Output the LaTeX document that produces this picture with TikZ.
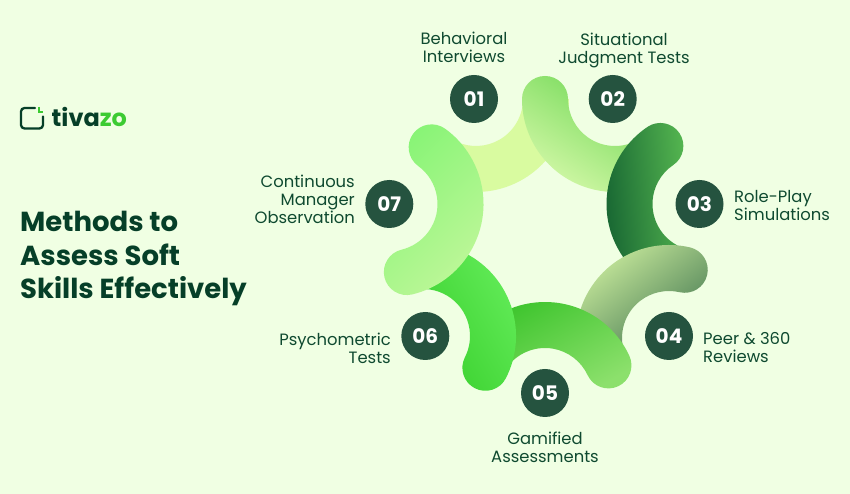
\documentclass[tikz,border=0pt]{standalone}
\usepackage{fontspec}
\setmainfont{Poppins}
\usetikzlibrary{calc}
\definecolor{bg}{HTML}{F0FFE3}
\definecolor{badge}{HTML}{25533F}
\definecolor{ink}{HTML}{0F4A30}
\definecolor{head}{HTML}{063F28}
\definecolor{zo}{HTML}{3CCB32}
\definecolor{sa}{HTML}{D9FBA0}
\definecolor{sba}{HTML}{70D855}
\definecolor{sbb}{HTML}{D6F9AA}
\definecolor{sca}{HTML}{0E5A2E}
\definecolor{scb}{HTML}{55B650}
\definecolor{sda}{HTML}{CDEE9F}
\definecolor{sdb}{HTML}{467A52}
\definecolor{sea}{HTML}{3CC42C}
\definecolor{seb}{HTML}{8CE06C}
\definecolor{sfa}{HTML}{3AD02E}
\definecolor{sfb}{HTML}{66EE5C}
\definecolor{sga}{HTML}{88F476}
\definecolor{sgb}{HTML}{C0F79A}
\tikzset{
  badgenode/.style={circle,fill=badge,text=white,minimum size=48pt,inner sep=0pt,font=\fontsize{20}{20}\selectfont\bfseries},
  lab/.style={text=ink,inner sep=0pt,font=\fontsize{16.4}{18}\selectfont},
  titletext/.style={text=head,inner sep=0pt,anchor=north west,align=left,font=\fontsize{27.5}{33.5}\selectfont\bfseries},
  logotext/.style={inner sep=0pt,anchor=base west,font=\fontsize{24}{24}\selectfont\bfseries},
}
% #6, #7: 1 = round end, 0 = flat end
\newcommand{\bandseg}[7]{%
  \ifnum#7=1 \def\endpiece{arc[start angle=#5,end angle=#5+180,radius=23pt]}%
  \else \def\endpiece{-- ($(#2,494-#3)+(#5:47pt)$)}\fi
  \ifnum#6=1 \def\startpiece{arc[start angle=#4+180,end angle=#4+360,radius=23pt]}%
  \else \def\startpiece{}\fi
  \shade[#1] ($(#2,494-#3)+(#4:93pt)$)
    arc[start angle=#4,end angle=#5,radius=93pt]
    \endpiece
    arc[start angle=#5,end angle=#4,radius=47pt]
    \startpiece
    -- cycle;%
}
\begin{document}
\begin{tikzpicture}[x=1pt,y=1pt]
\useasboundingbox (0,0) rectangle (850,494);
\fill[bg] (0,0) rectangle (850,494);
% segments painted in stacking order
\bandseg{top color=sa,bottom color=sa}{476}{99}{245}{360}{0}{0}
\bandseg{top color=sba,bottom color=sbb,shading angle=-33}{615}{99}{180}{295}{1}{0}
\bandseg{top color=sca,bottom color=scb,shading angle=95}{699.5}{204}{124}{242}{1}{0}
\bandseg{top color=sda,bottom color=sdb,shading angle=38}{669}{338}{77}{188}{1}{0}
\bandseg{top color=sea,bottom color=seb,shading angle=30}{545}{395}{25}{140}{1}{0}
\bandseg{top color=sfa,bottom color=sfb,shading angle=120}{423}{336}{-27}{93}{1}{0}
\bandseg{top color=sga,bottom color=sgb,shading angle=45}{390.5}{204}{-76.5}{54}{1}{1}
% badges
\node[badgenode] (b1) at (474,494-99) {01};
\node[badgenode] (b2) at (612.7,494-99) {02};
\node[badgenode] (b3) at (699.5,494-204) {03};
\node[badgenode] (b4) at (669,494-336) {04};
\node[badgenode] (b5) at (545,494-393) {05};
\node[badgenode] (b6) at (425.3,494-336) {06};
\node[badgenode] (b7) at (389.3,494-204) {07};
% labels
\node[lab,align=center] (l1) at (464,494-47) {Behavioral\\Interviews};
\node[lab,align=center] (l2) at (624,494-50) {Situational\\Judgment Tests};
\node[lab,align=left,anchor=west] (l3) at (734,494-205.5) {Role-Play\\Simulations};
\node[lab,align=left,anchor=west] (l4) at (703,494-347.5) {Peer \& 360\\Reviews};
\node[lab,align=center] (l5) at (545,494-447) {Gamified\\Assessments};
\node[lab,align=right,anchor=east] (l6) at (391,494-348) {Psychometric\\Tests};
\node[lab,align=right,anchor=east] (l7) at (355,494-199) {Continuous\\Manager\\Observation};
% title
\node[titletext] (title) at (20,494-211) {Methods to\\Assess Soft\\Skills Effectively};
% logo
\draw[head,line width=2.3pt,rounded corners=3.5pt,line cap=round] (35,494-108) -- (21,494-108) -- (21,494-128.5) -- (43,494-128.5) -- (43,494-116.5);
\draw[zo,line width=2pt] (38.5,494-107) -- (38.5,494-112) -- (42.5,494-112);
\node[logotext] (logo) at (51.5,494-127) {\textcolor{head}{tiva}\textcolor{zo}{zo}};
\end{tikzpicture}
\end{document}
